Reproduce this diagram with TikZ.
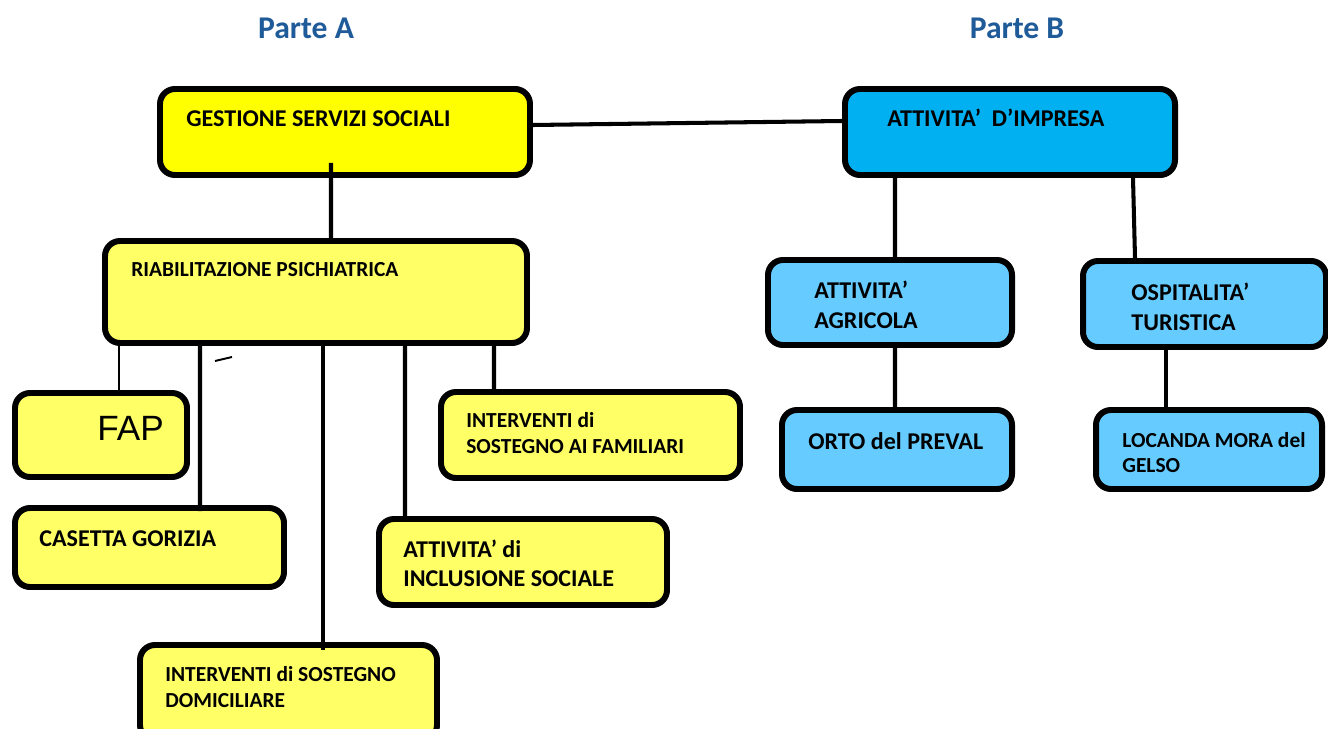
\documentclass[tikz,border=0pt]{standalone}
\usepackage{fontspec}
\setmainfont{Carlito}
\newfontfamily\arialfont{Liberation Sans}
\usepackage{xcolor}
\definecolor{titleblue}{RGB}{31,90,153}
\definecolor{gialloforte}{RGB}{255,255,0}
\definecolor{giallo}{RGB}{255,255,102}
\definecolor{azzurroforte}{RGB}{0,176,240}
\definecolor{azzurro}{RGB}{102,204,255}
\tikzstyle{casella} = [rectangle, rounded corners=0.3cm,
line width=3.4pt,
draw=black,
inner sep=0pt]
\tikzstyle{gialla} = [casella, fill=giallo]
\tikzstyle{azzurra} = [casella, fill=azzurro]
\tikzstyle{testo} = [anchor=west, align=left, inner sep=0pt,
font=\fontsize{13.7}{16.5}\selectfont\bfseries]
\tikzstyle{testino} = [anchor=west, align=left, inner sep=0pt,
font=\fontsize{12.2}{14.8}\selectfont\bfseries]
\tikzstyle{titolo} = [font=\fontsize{18}{21}\selectfont\bfseries, text=titleblue]
\tikzstyle{linea} = [line width=2.3pt]

\begin{document}
\begin{tikzpicture}
		\useasboundingbox (0,0) rectangle (26.56,-14.58);

		\node (titA) [titolo] at (6.12,-0.56) {Parte A};
		\node (titB) [titolo] at (20.34,-0.56) {Parte B};

		% parte A
		\node (gss) [casella, fill=gialloforte, minimum width=7.40cm, minimum height=1.72cm] at (6.90,-2.64) {};
		\node (rp) [gialla, minimum width=8.44cm, minimum height=2.04cm] at (6.32,-5.84) {};
		\node (fap) [gialla, minimum width=3.44cm, minimum height=1.68cm] at (2.02,-8.70) {};
		\node (cg) [gialla, minimum width=5.38cm, minimum height=1.58cm] at (2.99,-10.95) {};
		\node (ids) [gialla, minimum width=5.94cm, minimum height=1.90cm] at (5.77,-13.85) {};
		\node (ais) [gialla, minimum width=5.76cm, minimum height=1.72cm] at (10.46,-11.24) {};
		\node (isf) [gialla, minimum width=5.98cm, minimum height=1.72cm] at (11.81,-8.70) {};

		% parte B
		\node (ai) [casella, fill=azzurroforte, minimum width=6.60cm, minimum height=1.72cm] at (20.20,-2.64) {};
		\node (aa) [azzurra, minimum width=4.88cm, minimum height=1.70cm] at (17.80,-6.05) {};
		\node (ot) [azzurra, minimum width=4.86cm, minimum height=1.72cm] at (24.09,-6.08) {};
		\node (odp) [azzurra, minimum width=4.60cm, minimum height=1.58cm] at (17.94,-8.99) {};
		\node (lmg) [azzurra, minimum width=4.52cm, minimum height=1.58cm] at (24.18,-8.99) {};

		% testi
		\node (gss-t) [testo] at (3.72,-2.38) {GESTIONE SERVIZI SOCIALI};
		\node (rp-t) [testino] at (2.62,-5.40) {RIABILITAZIONE PSICHIATRICA};
		\node (fap-t) [anchor=west, inner sep=0pt, font=\arialfont\fontsize{20}{24}\selectfont] at (1.94,-8.56) {FAP};
		\node (cg-t) [testo] at (0.78,-10.78) {CASETTA GORIZIA};
		\node (ids-t) [testino] at (3.30,-13.74) {INTERVENTI di SOSTEGNO\\DOMICILIARE};
		\node (ais-t) [testo] at (8.06,-11.26) {ATTIVITA’ di\\INCLUSIONE SOCIALE};
		\node (isf-t) [testino] at (9.32,-8.66) {INTERVENTI di\\SOSTEGNO AI FAMILIARI};
		\node (ai-t) [testo] at (17.74,-2.36) {ATTIVITA’\ \ D’IMPRESA};
		\node (aa-t) [testo, font=\fontsize{13.7}{17}\selectfont\bfseries] at (16.28,-6.10) {ATTIVITA’\\AGRICOLA};
		\node (ot-t) [testo, font=\fontsize{13.7}{17}\selectfont\bfseries] at (22.62,-6.14) {OSPITALITA’\\TURISTICA};
		\node (odp-t) [testo] at (16.16,-8.82) {ORTO del PREVAL};
		\node (lmg-t) [testino, font=\fontsize{12.2}{14.2}\selectfont\bfseries] at (22.44,-9.05) {LOCANDA MORA del\\GELSO};

		% collegamenti
		\draw [linea] ([yshift=0.14cm]gss.east) -- ([yshift=0.22cm]ai.west);
		\draw [linea] ([xshift=-0.28cm, yshift=0.3cm]gss.south) -- ([xshift=0.30cm]rp.north);
		\draw [line width=1.1pt] ([xshift=-3.94cm]rp.south) -- ([xshift=0.36cm]fap.north);
		\draw [linea] ([xshift=-2.32cm]rp.south) -- ([xshift=1.01cm, yshift=-0.12cm]cg.north);
		\draw [linea] ([xshift=0.14cm]rp.south) -- ([xshift=0.69cm, yshift=-0.16cm]ids.north);
		\draw [linea] ([xshift=1.78cm]rp.south) -- ([xshift=-2.36cm, yshift=-0.08cm]ais.north);
		\draw [linea] ([xshift=3.56cm]rp.south) -- ([xshift=-1.93cm]isf.north);
		\draw [line width=1.1pt] (4.30,-7.22) -- (4.64,-7.14);

		\draw [linea] ([xshift=-2.30cm]ai.south) -- ([xshift=0.10cm]aa.north);
		\draw [linea] ([xshift=2.46cm]ai.south) -- ([xshift=-1.39cm]ot.north);
		\draw [linea] ([xshift=0.10cm]aa.south) -- ([xshift=-0.04cm]odp.north);
		\draw [linea] ([xshift=-0.77cm]ot.south) -- ([xshift=-0.86cm]lmg.north);

	\end{tikzpicture}
\end{document}
